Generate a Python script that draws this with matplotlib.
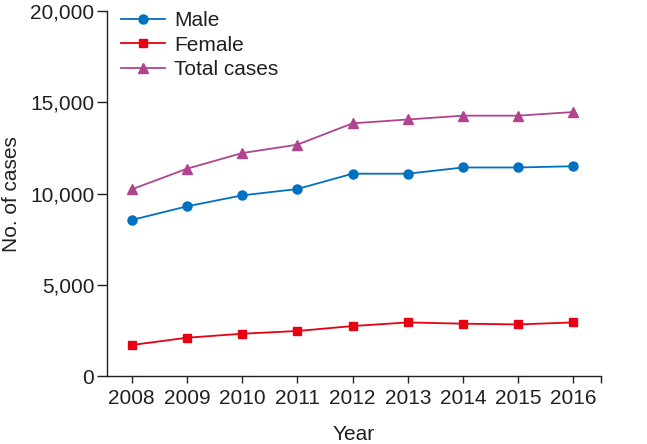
import matplotlib
matplotlib.use('Agg')
import matplotlib.pyplot as plt
from matplotlib.ticker import FuncFormatter

years = [2008, 2009, 2010, 2011, 2012, 2013, 2014, 2015, 2016]
male = [8550, 9300, 9900, 10250, 11090, 11090, 11430, 11430, 11500]
female = [1700, 2100, 2320, 2470, 2740, 2940, 2870, 2830, 2940]
total = [10230, 11360, 12220, 12680, 13850, 14060, 14270, 14270, 14470]

plt.rcParams['font.family'] = ['Liberation Sans', 'DejaVu Sans']
text_col = '#231f20'
fs = 15

fig = plt.figure(figsize=(6.47, 4.44), dpi=100)
ax = fig.add_axes([0.165, 0.153, 0.764, 0.822])

ax.plot(years, male, color='#0070c0', marker='o', markersize=6.5, lw=1.3, label='Male')
ax.plot(years, female, color='#e60012', marker='s', markersize=5.8, lw=1.3, label='Female')
ax.plot(years, total, color='#b0448f', marker='^', markersize=7.5, lw=1.3, label='Total cases')

ax.set_xlim(2007.55, 2016.5)
ax.set_ylim(0, 20000)
ax.set_xticks(years + [2016.5])
ax.set_xticklabels([str(y) for y in years] + [''])
ax.set_yticks([0, 5000, 10000, 15000, 20000])
ax.yaxis.set_major_formatter(FuncFormatter(lambda v, p: '{:,.0f}'.format(v)))

for s in ['top', 'right']:
    ax.spines[s].set_visible(False)
for s in ['left', 'bottom']:
    ax.spines[s].set_color(text_col)
    ax.spines[s].set_linewidth(1.0)
ax.tick_params(direction='out', width=1.0, color=text_col,
               labelcolor=text_col, labelsize=fs)
ax.tick_params(axis='x', length=5, pad=4)
ax.tick_params(axis='y', length=7, pad=2)

ax.set_xlabel('Year', fontsize=fs, color=text_col)
ax.set_ylabel('No. of cases', fontsize=fs, color=text_col)
ax.xaxis.set_label_coords(0.5, -0.135)
ax.yaxis.set_label_coords(-0.174, 0.5)

ax.legend(loc='upper left', bbox_to_anchor=(0.0, 1.04), frameon=False,
          fontsize=fs, handlelength=2.1, labelspacing=0.27,
          handletextpad=0.45, borderaxespad=0.3, labelcolor=text_col)

fig.savefig('out.png', dpi=100)
